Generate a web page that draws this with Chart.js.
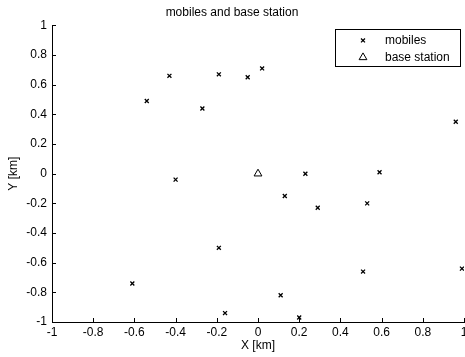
<!DOCTYPE html>
<html>
<head>
<meta charset="utf-8">
<script src="https://cdn.jsdelivr.net/npm/chart.js@4/dist/chart.umd.min.js"></script>
<style>
  html, body { margin: 0; padding: 0; background: #fff; }
  #wrap { width: 465px; height: 357px; }
</style>
</head>
<body>
<div id="wrap"><canvas id="chart1" width="465" height="357"></canvas></div>
<script>
var mobileX = [-0.43, -0.54, -0.27, -0.19, -0.05, 0.02, 0.96, 0.23, 0.59, -0.40, -0.19, -0.61, -0.16, 0.13, 0.29, 0.53, 0.51, 0.99, 0.11, 0.20];
var mobileY = [0.66, 0.49, 0.44, 0.67, 0.65, 0.71, 0.35, 0.00, 0.01, -0.04, -0.50, -0.74, -0.94, -0.15, -0.23, -0.20, -0.66, -0.64, -0.82, -0.97];
var baseX = [0];
var baseY = [0];
var xTicks = [-1, -0.8, -0.6, -0.4, -0.2, 0, 0.2, 0.4, 0.6, 0.8, 1];
var yTicks = [-1, -0.8, -0.6, -0.4, -0.2, 0, 0.2, 0.4, 0.6, 0.8, 1];

var font = "'Liberation Sans', Arial, sans-serif";
Chart.defaults.font.family = font;
Chart.defaults.font.size = 12;
Chart.defaults.color = '#000';

function pts(xs, ys) {
  return xs.map(function (v, i) { return {x: v, y: ys[i]}; });
}

// matlab style ticks pointing into the plot
var innerTicks = {
  id: 'innerTicks',
  afterDatasetsDraw: function (chart) {
    var ctx = chart.ctx, a = chart.chartArea;
    ctx.save();
    ctx.strokeStyle = '#000';
    ctx.lineWidth = 1;
    ctx.beginPath();
    xTicks.forEach(function (t) {
      var px = Math.round(chart.scales.x.getPixelForValue(t)) + 0.5;
      ctx.moveTo(px, a.bottom);
      ctx.lineTo(px, a.bottom - 4);
    });
    yTicks.forEach(function (t) {
      var py = Math.round(chart.scales.y.getPixelForValue(t)) + 0.5;
      ctx.moveTo(a.left, py);
      ctx.lineTo(a.left + 4, py);
    });
    ctx.stroke();
    ctx.restore();
  }
};

// boxed legend inside the axes, top right
var boxLegend = {
  id: 'boxLegend',
  afterDraw: function (chart) {
    var ctx = chart.ctx, a = chart.chartArea;
    var w = 125, h = 37;
    var x0 = a.right - 4 - w, y0 = a.top + 4;
    ctx.save();
    ctx.fillStyle = '#fff';
    ctx.fillRect(x0, y0, w, h);
    ctx.strokeStyle = '#000';
    ctx.lineWidth = 1;
    ctx.strokeRect(Math.round(x0) + 0.5, Math.round(y0) + 0.5, w, h);
    ctx.textBaseline = 'middle';
    chart.data.datasets.forEach(function (ds, i) {
      var yy = y0 + 11 + i * 17;
      ctx.fillStyle = 'rgba(0,0,0,0)';
      ctx.strokeStyle = '#000';
      ctx.lineWidth = ds.borderWidth;
      Chart.helpers.drawPoint(ctx, {
        pointStyle: ds.pointStyle,
        radius: ds.pointRadius,
        borderWidth: ds.borderWidth
      }, x0 + 28, yy);
      ctx.font = '12px ' + font;
      ctx.fillStyle = '#000';
      ctx.fillText(ds.label, x0 + 50, yy);
    });
    ctx.restore();
  }
};

new Chart("chart1", {
  type: "scatter",
  data: {
    datasets: [{
      label: 'mobiles',
      data: pts(mobileX, mobileY),
      pointStyle: 'crossRot',
      pointRadius: 2.8,
      borderColor: '#000',
      backgroundColor: '#000',
      borderWidth: 1.3
    },
    {
      label: 'base station',
      data: pts(baseX, baseY),
      pointStyle: 'triangle',
      pointRadius: 4.5,
      borderColor: '#000',
      backgroundColor: 'rgba(0,0,0,0)',
      borderWidth: 1
    }]
  },
  options: {
    responsive: false,
    animation: false,
    layout: { autoPadding: false, padding: { top: 0, right: 1, left: 0, bottom: 0 } },
    plugins: {
      legend: { display: false },
      tooltip: { enabled: false },
      title: {
        display: true,
        text: 'mobiles and base station',
        font: { size: 12, weight: 'normal' },
        color: '#000',
        padding: { top: 5, bottom: 6 }
      }
    },
    scales: {
      x: {
        type: 'linear',
        min: -1,
        max: 1,
        afterBuildTicks: function (s) { s.ticks = xTicks.map(function (v) { return {value: v}; }); },
        afterFit: function (s) { s.height = 35; s.paddingLeft = 0; s.paddingRight = 0; },
        grid: { display: false, drawTicks: false },
        border: { display: true, color: '#000', width: 1 },
        ticks: {
          padding: 3,
          color: '#000',
          maxRotation: 0,
          autoSkip: false,
          callback: function (v) { return String(Math.round(v * 10) / 10); }
        },
        title: { display: true, text: 'X [km]', color: '#000', padding: { top: 0, bottom: 4 } }
      },
      y: {
        type: 'linear',
        min: -1,
        max: 1,
        afterBuildTicks: function (s) { s.ticks = yTicks.map(function (v) { return {value: v}; }); },
        afterFit: function (s) { s.width = 52; s.paddingTop = 0; s.paddingBottom = 0; },
        grid: { display: false, drawTicks: false },
        border: { display: true, color: '#000', width: 1 },
        ticks: {
          padding: 5,
          color: '#000',
          autoSkip: false,
          callback: function (v) { return String(Math.round(v * 10) / 10); }
        },
        title: { display: true, text: 'Y [km]', color: '#000', padding: { top: 6, bottom: 0 } }
      }
    }
  },
  plugins: [innerTicks, boxLegend]
});
</script>
</body>
</html>
